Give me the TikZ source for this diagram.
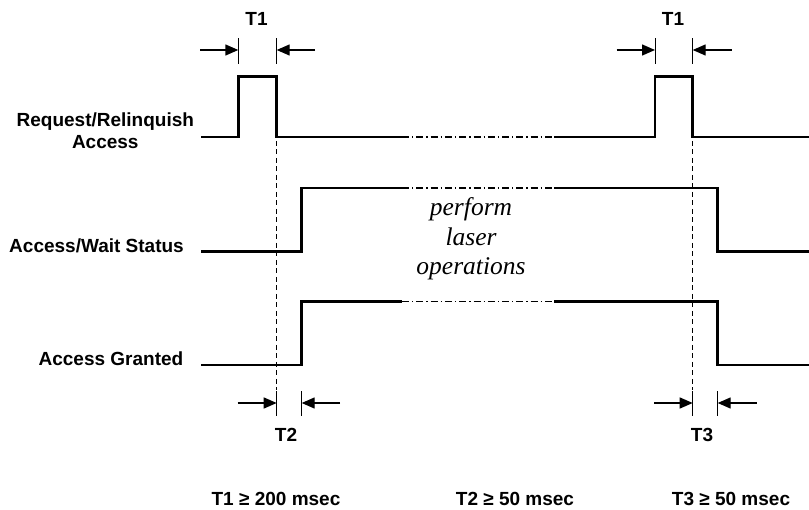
\documentclass[tikz,border=0pt]{standalone}
\usepackage{fontspec}
\setmainfont{Liberation Sans}
\newfontfamily\seriffont{Liberation Serif}
\usetikzlibrary{arrows.meta}
\begin{document}
\begin{tikzpicture}[x=1pt,y=-1pt,
  sig/.style={line width=2.6pt,line join=miter,line cap=butt},
  gapline/.style={line width=1.3pt,dash pattern=on 7pt off 3pt on 1.3pt off 3pt},
  guide/.style={line width=1pt,dash pattern=on 5pt off 3.5pt},
  tickline/.style={line width=1pt},
  dimarrow/.style={line width=1.4pt,-{Triangle[length=13pt,width=11pt]}},
  lbl/.style={font=\fontsize{19}{22}\selectfont\bfseries,anchor=base,inner sep=0pt},
  ital/.style={font=\fontsize{25.5}{29}\selectfont\seriffont\itshape,anchor=base,inner sep=0pt}
]
\useasboundingbox (0,0) rectangle (809,510);

% signals
\draw[sig] (201,137) -- (238.3,137) -- (238.3,76.5) -- (276.7,76.5) -- (276.7,137) -- (402,137);
\draw[gapline] (402,137) -- (554,137);
\draw[sig] (554,137) -- (655,137) -- (655,76.5) -- (692.7,76.5) -- (692.7,137) -- (809,137);

\draw[sig] (201,251.5) -- (301.7,251.5) -- (301.7,188) -- (402,188);
\draw[gapline] (402,188) -- (554,188);
\draw[sig] (554,188) -- (717.7,188) -- (717.7,251.5) -- (809,251.5);

\draw[sig] (201,365) -- (301.7,365) -- (301.7,301.7) -- (402,301.7);
\draw[gapline] (402,301.7) -- (554,301.7);
\draw[sig] (554,301.7) -- (717.7,301.7) -- (717.7,365) -- (809,365);

% guide lines
\coordinate (g1t) at (276.7,141);
\coordinate (g1b) at (276.7,390);
\coordinate (g2t) at (692.7,141);
\coordinate (g2b) at (692.7,390);
\draw[guide] (g1t) -- (g1b);
\draw[guide] (g2t) -- (g2b);

% ticks top
\coordinate (ta1) at (238.3,50);
\coordinate (ta2) at (276.7,50);
\coordinate (tb1) at (655,50);
\coordinate (tb2) at (692.7,50);
\foreach \c in {ta1,ta2,tb1,tb2} \draw[tickline] ([yshift=-14pt]\c) -- ([yshift=12pt]\c);
% ticks bottom
\coordinate (bc1) at (276.7,403);
\coordinate (bc2) at (301.7,403);
\coordinate (bd1) at (692.7,403);
\coordinate (bd2) at (717.7,403);
\foreach \c in {bc1,bc2,bd1,bd2} \draw[tickline] ([yshift=-13pt]\c) -- ([yshift=12pt]\c);

% arrows
\coordinate (fa1) at (200,50);
\coordinate (fa2) at (315,50);
\coordinate (fb1) at (616.7,50);
\coordinate (fb2) at (731.7,50);
\coordinate (fc1) at (237.7,403);
\coordinate (fc2) at (340,403);
\coordinate (fd1) at (654.3,403);
\coordinate (fd2) at (756.7,403);
\draw[dimarrow] (fa1) -- (ta1);
\draw[dimarrow] (fa2) -- (ta2);
\draw[dimarrow] (fb1) -- (tb1);
\draw[dimarrow] (fb2) -- (tb2);
\draw[dimarrow] (fc1) -- (bc1);
\draw[dimarrow] (fc2) -- (bc2);
\draw[dimarrow] (fd1) -- (bd1);
\draw[dimarrow] (fd2) -- (bd2);

% labels
\node[lbl] (t1a) at (256.5,26) {T1};
\node[lbl] (t1b) at (673,26) {T1};
\node[lbl] (t2) at (286,442) {T2};
\node[lbl] (t3) at (702,442) {T3};

\node[lbl] (req1) at (105.3,127) {Request/Relinquish};
\node[lbl] (req2) at (105.3,148.5) {Access};
\node[lbl,anchor=base east] (aws) at (184,252.5) {Access/Wait Status};
\node[lbl,anchor=base east] (ag) at (183.5,366) {Access Granted};

\node[ital] (op1) at (471,216) {perform};
\node[ital] (op2) at (471,245.5) {laser};
\node[ital] (op3) at (471,275) {operations};

\node[lbl] (n1) at (276,506) {T1 ≥ 200 msec};
\node[lbl] (n2) at (515,506) {T2 ≥ 50 msec};
\node[lbl] (n3) at (731,506) {T3 ≥ 50 msec};
\end{tikzpicture}
\end{document}
